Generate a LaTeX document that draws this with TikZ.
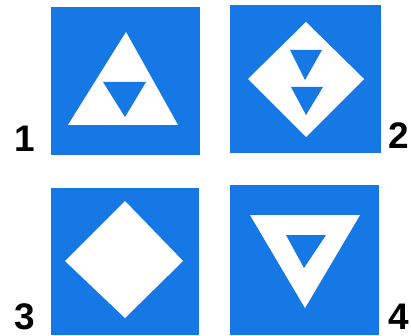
\documentclass[tikz,border=0pt]{standalone}
\usepackage{fontspec}
\setsansfont{Liberation Sans}
\definecolor{signblue}{RGB}{22,120,228}
\tikzset{
  panel/.style={fill=signblue},
  cutout/.style={fill=white},
  hole/.style={fill=signblue},
  numlabel/.style={font=\sffamily\bfseries\fontsize{37}{37}\selectfont, inner sep=0pt}
}

\begin{document}
\begin{tikzpicture}[x=1pt, y=-1pt]
\useasboundingbox (0,0) rectangle (411,336);
% ---------- sign 1: triangle with inner triangle ----------
\fill[panel] (51,7) rectangle (200,155);
\fill[cutout] (126,32) -- (178,125) -- (68,125) -- cycle;
\fill[hole] (103,82) -- (146,82) -- (125,117) -- cycle;
\node[numlabel] (n1) at (25,139) {1};
% ---------- sign 2: diamond with two triangles ----------
\fill[panel] (230,5) rectangle (381,153);
\fill[cutout] (306,22) -- (364,79) -- (306,137) -- (248,79) -- cycle;
\fill[hole] (290,50) -- (322,50) -- (305,80) -- cycle;
\fill[hole] (291,87) -- (323,87) -- (306,115) -- cycle;
\node[numlabel] (n2) at (399,136) {2};
% ---------- sign 3: plain diamond ----------
\fill[panel] (51,188) rectangle (199,335);
\fill[cutout] (125,201) -- (183,261) -- (125,318) -- (65,261) -- cycle;
\node[numlabel] (n3) at (25,317) {3};
% ---------- sign 4: inverted triangle ----------
\fill[panel] (230,185) rectangle (379,335);
\fill[cutout] (250,215) -- (360,215) -- (305,308) -- cycle;
\fill[hole] (286,235) -- (326,235) -- (304,268) -- cycle;
\node[numlabel] (n4) at (399,317) {4};
\end{tikzpicture}
\end{document}
